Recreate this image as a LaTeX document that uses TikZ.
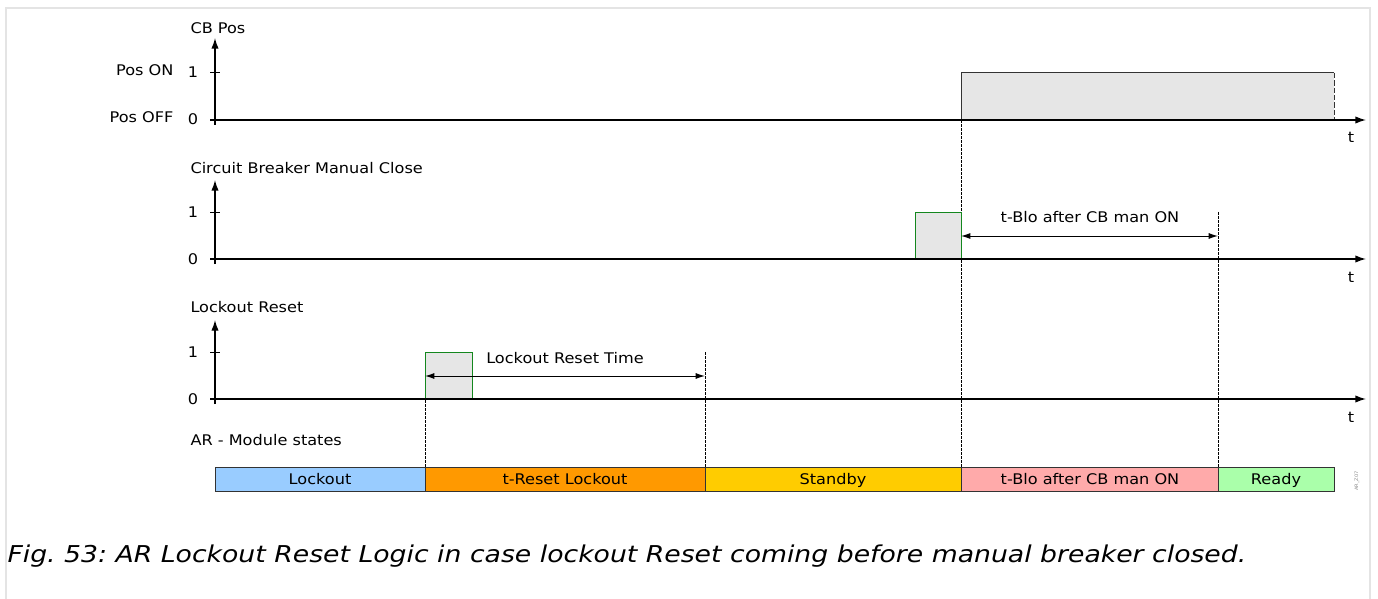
\documentclass[tikz,border=0pt]{standalone}
\usepackage{fontspec}
\setmainfont[FakeStretch=1.1]{DejaVu Sans}
\newfontfamily\captionfont[FakeStretch=1.15]{DejaVu Sans}
\usetikzlibrary{arrows.meta}

\definecolor{pulsegray}{HTML}{E6E6E6}
\definecolor{pulsegreen}{HTML}{14871E}
\definecolor{stLockout}{HTML}{99CCFF}
\definecolor{stReset}{HTML}{FF9900}
\definecolor{stStandby}{HTML}{FFCC00}
\definecolor{stBlo}{HTML}{FFAAAA}
\definecolor{stReady}{HTML}{AAFFAA}
\definecolor{framegray}{HTML}{E4E4E4}

\tikzset{every picture/.style={line width=0.75pt}}
\tikzset{
  axis/.style={line width=1pt,-{Latex[length=8pt,width=5.5pt]}},
  span/.style={line width=0.75pt,{Latex[length=7pt,width=4.5pt]}-{Latex[length=7pt,width=4.5pt]}},
  marker/.style={line width=0.5pt,dash pattern=on 2pt off 1pt},
  lbl/.style={inner sep=0.75pt,font=\fontsize{11}{13}\selectfont},
  statelbl/.style={lbl,text height=8pt,text depth=2.5pt},
  statebox/.style={draw=black!80,line width=0.75pt},
}

\begin{document}
\frenchspacing
\begin{tikzpicture}[x=0.75pt,y=0.75pt,yscale=-1,xscale=1]
\useasboundingbox (0,0) rectangle (1378,599);

%Frame
\draw [framegray,line width=1.5pt] (6,599) -- (6,8) -- (1370,8) -- (1370,599);

%Markers (dashed)
\draw [marker] (425,352) -- (425,467);
\draw [marker] (705,352) -- (705,467);
\draw [marker] (961,120) -- (961,467);
\draw [marker] (1218,212) -- (1218,467);

%Shape: CB Pos pulse
\fill [pulsegray] (961,73) rectangle (1334,120);
\draw [black!80] (961,120) -- (961,73) -- (1334,73);
\draw [black!80,dash pattern=on 4pt off 1.5pt] (1334,73) -- (1334,120);
%Shape: CB manual close pulse
\draw [pulsegreen,fill=pulsegray] (915,259) -- (915,213) -- (961,213) -- (961,259);
%Shape: Lockout reset pulse
\draw [pulsegreen,fill=pulsegray] (425,399) -- (425,352) -- (472,352) -- (472,399);

%Axes: CB Pos
\draw [axis] (215,125) -- (215,38);
\draw [axis] (210,120) -- (1366,120);
\draw (210,73) -- (220,73);
%Axes: Circuit Breaker Manual Close
\draw [axis] (215,264) -- (215,180);
\draw [axis] (210,259) -- (1366,259);
\draw (210,213) -- (220,213);
%Axes: Lockout Reset
\draw [axis] (215,404) -- (215,320);
\draw [axis] (210,399) -- (1366,399);
\draw (210,352) -- (220,352);

% Text Node
\node [lbl,anchor=west] (cbpos) at (189,28) {CB Pos};
% Text Node
\node [lbl,anchor=east] (poson) at (175,70) {Pos ON};
% Text Node
\node [lbl,anchor=east] (posoff) at (175,117) {Pos OFF};
% Text Node
\node [lbl] (one1) at (193,72) {1};
% Text Node
\node [lbl] (zero1) at (193,119) {0};
% Text Node
\node [lbl] (t1) at (1351,137) {t};
% Text Node
\node [lbl,anchor=west] (cbman) at (189,168) {Circuit Breaker Manual Close};
% Text Node
\node [lbl] (one2) at (193,212) {1};
% Text Node
\node [lbl] (zero2) at (193,259) {0};
% Text Node
\node [lbl] (t2) at (1351,277) {t};
% Text Node
\node [lbl,anchor=west] (lrst) at (189,307) {Lockout Reset};
% Text Node
\node [lbl] (one3) at (193,352) {1};
% Text Node
\node [lbl] (zero3) at (193,399) {0};
% Text Node
\node [lbl] (t3) at (1351,417) {t};
% Text Node
\node [lbl,anchor=west] (arstates) at (189,440) {AR - Module states};

%Time spans
\coordinate (bloA) at (961,236);
\coordinate (bloB) at (1218,236);
\draw [span] (bloA) -- (bloB);
\node [lbl] (blotxt) at (1090,217) {t-Blo after CB man ON};
\coordinate (rstA) at (425,376);
\coordinate (rstB) at (705,376);
\draw [span] (rstA) -- (rstB);
\node [lbl] (rsttxt) at (565,358) {Lockout Reset Time};

%Module states
\draw [statebox,fill=stLockout] (215,467) rectangle (425,491);
\node [statelbl] (sLockout) at (320,481) {Lockout};
\draw [statebox,fill=stReset] (425,467) rectangle (705,491);
\node [statelbl] (sReset) at (565,481) {t-Reset Lockout};
\draw [statebox,fill=stStandby] (705,467) rectangle (961,491);
\node [statelbl] (sStandby) at (833,481) {Standby};
\draw [statebox,fill=stBlo] (961,467) rectangle (1218,491);
\node [statelbl] (sBlo) at (1090,481) {t-Blo after CB man ON};
\draw [statebox,fill=stReady] (1218,467) rectangle (1334,491);
\node [statelbl] (sReady) at (1276,481) {Ready};

% Text Node
\node [inner sep=0pt,rotate=90,text=black!45,font=\fontsize{3.5}{4}\selectfont] (tag) at (1357,481) {AR\_Z07};
% Text Node
\node [inner sep=0.75pt,anchor=west,font=\captionfont\fontsize{17.4}{20}\itshape] (caption) at (6,556) {Fig. 53: AR Lockout Reset Logic in case lockout Reset coming before manual breaker closed.};

\end{tikzpicture}
\end{document}
